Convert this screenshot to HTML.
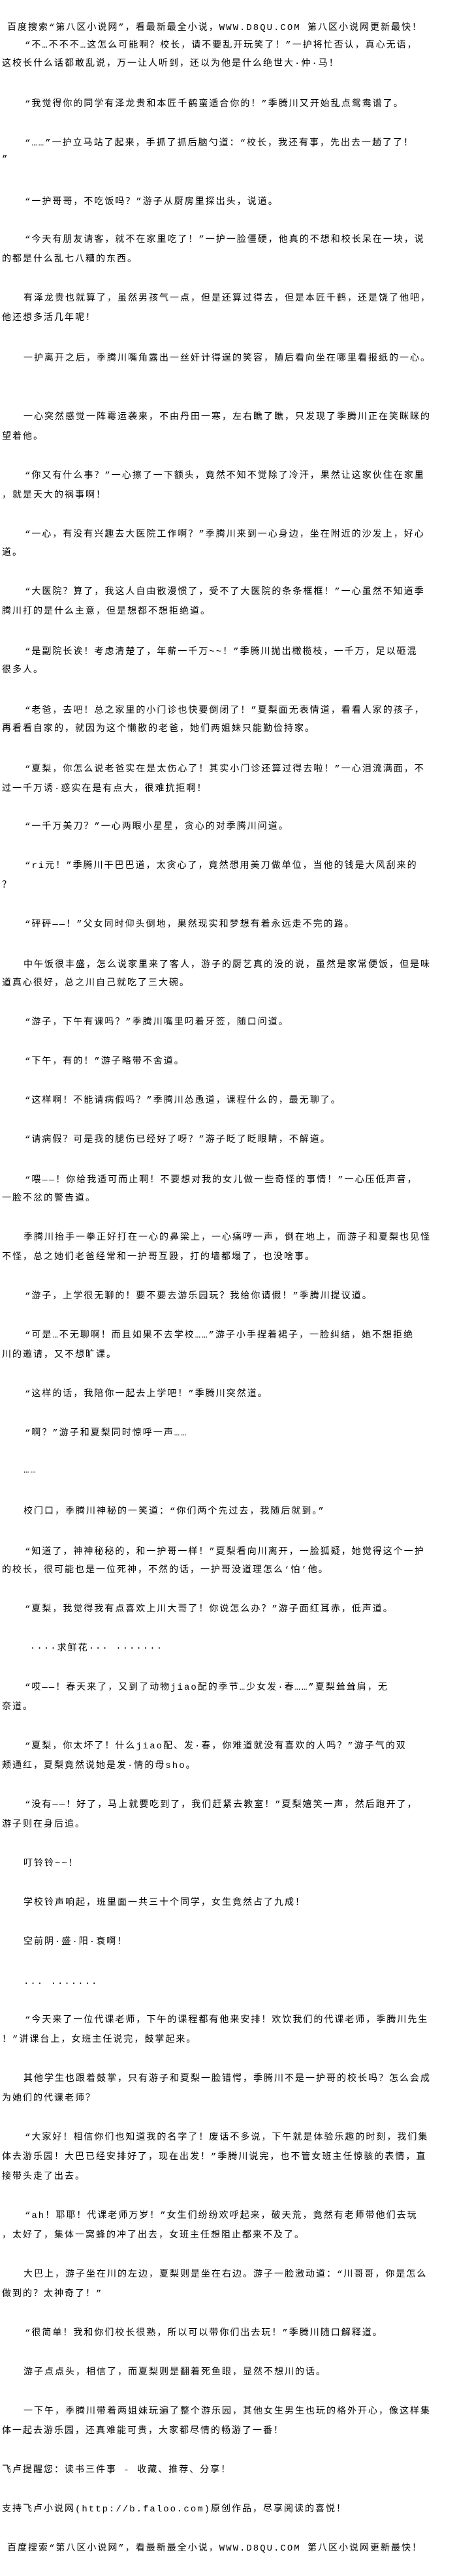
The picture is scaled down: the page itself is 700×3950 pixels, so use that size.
<!DOCTYPE html>
<html><head><meta charset="utf-8"><style>
html,body{margin:0;padding:0;background:#fff;}
body{width:700px;height:3950px;position:relative;overflow:hidden;}
.l{position:absolute;white-space:nowrap;font-family:"Liberation Mono","Noto Sans CJK SC",monospace;font-size:14px;line-height:16px;letter-spacing:2px;color:#000;}
</style></head><body>
<div class="l" style="left:11px;top:35px">百度搜索“第八区小说网”，看最新最全小说，WWW.D8QU.COM  第八区小说网更新最快！</div>
<div class="l" style="left:38px;top:62px">“不…不不不…这怎么可能啊？校长，请不要乱开玩笑了！”一护将忙否认，真心无语，</div>
<div class="l" style="left:3px;top:90px">这校长什么话都敢乱说，万一让人听到，还以为他是什么绝世大·仲·马！</div>
<div class="l" style="left:38px;top:152px">“我觉得你的同学有泽龙贵和本匠千鹤蛮适合你的！”季腾川又开始乱点鸳鸯谱了。</div>
<div class="l" style="left:38px;top:212px">“……”一护立马站了起来，手抓了抓后脑勺道：“校长，我还有事，先出去一趟了了！</div>
<div class="l" style="left:3px;top:237px">”</div>
<div class="l" style="left:38px;top:302px">“一护哥哥，不吃饭吗？”游子从厨房里探出头，说道。</div>
<div class="l" style="left:38px;top:360px">“今天有朋友请客，就不在家里吃了！”一护一脸僵硬，他真的不想和校长呆在一块，说</div>
<div class="l" style="left:3px;top:390px">的都是什么乱七八糟的东西。</div>
<div class="l" style="left:36px;top:450px">有泽龙贵也就算了，虽然男孩气一点，但是还算过得去，但是本匠千鹤，还是饶了他吧，</div>
<div class="l" style="left:3px;top:480px">他还想多活几年呢！</div>
<div class="l" style="left:36px;top:542px">一护离开之后，季腾川嘴角露出一丝奸计得逞的笑容，随后看向坐在哪里看报纸的一心。</div>
<div class="l" style="left:36px;top:632px">一心突然感觉一阵霉运袭来，不由丹田一寒，左右瞧了瞧，只发现了季腾川正在笑眯眯的</div>
<div class="l" style="left:3px;top:662px">望着他。</div>
<div class="l" style="left:38px;top:722px">“你又有什么事？”一心擦了一下额头，竟然不知不觉除了冷汗，果然让这家伙住在家里</div>
<div class="l" style="left:3px;top:752px">，就是天大的祸事啊！</div>
<div class="l" style="left:38px;top:812px">“一心，有没有兴趣去大医院工作啊？”季腾川来到一心身边，坐在附近的沙发上，好心</div>
<div class="l" style="left:3px;top:840px">道。</div>
<div class="l" style="left:38px;top:900px">“大医院？算了，我这人自由散漫惯了，受不了大医院的条条框框！”一心虽然不知道季</div>
<div class="l" style="left:3px;top:930px">腾川打的是什么主意，但是想都不想拒绝道。</div>
<div class="l" style="left:38px;top:992px">“是副院长诶！考虑清楚了，年薪一千万~~！”季腾川抛出橄榄枝，一千万，足以砸混</div>
<div class="l" style="left:3px;top:1020px">很多人。</div>
<div class="l" style="left:38px;top:1082px">“老爸，去吧！总之家里的小门诊也快要倒闭了！”夏梨面无表情道，看看人家的孩子，</div>
<div class="l" style="left:3px;top:1110px">再看看自家的，就因为这个懒散的老爸，她们两姐妹只能勤俭持家。</div>
<div class="l" style="left:38px;top:1172px">“夏梨，你怎么说老爸实在是太伤心了！其实小门诊还算过得去啦！”一心泪流满面，不</div>
<div class="l" style="left:3px;top:1202px">过一千万诱·惑实在是有点大，很难抗拒啊！</div>
<div class="l" style="left:38px;top:1260px">“一千万美刀？”一心两眼小星星，贪心的对季腾川问道。</div>
<div class="l" style="left:38px;top:1320px">“ri元！”季腾川干巴巴道，太贪心了，竟然想用美刀做单位，当他的钱是大风刮来的</div>
<div class="l" style="left:3px;top:1350px">？</div>
<div class="l" style="left:38px;top:1410px">“砰砰——！”父女同时仰头倒地，果然现实和梦想有着永远走不完的路。</div>
<div class="l" style="left:36px;top:1472px">中午饭很丰盛，怎么说家里来了客人，游子的厨艺真的没的说，虽然是家常便饭，但是味</div>
<div class="l" style="left:3px;top:1500px">道真心很好，总之川自己就吃了三大碗。</div>
<div class="l" style="left:38px;top:1560px">“游子，下午有课吗？”季腾川嘴里叼着牙签，随口问道。</div>
<div class="l" style="left:38px;top:1620px">“下午，有的！”游子略带不舍道。</div>
<div class="l" style="left:38px;top:1680px">“这样啊！不能请病假吗？”季腾川怂恿道，课程什么的，最无聊了。</div>
<div class="l" style="left:38px;top:1740px">“请病假？可是我的腿伤已经好了呀？”游子眨了眨眼睛，不解道。</div>
<div class="l" style="left:38px;top:1802px">“喂——！你给我适可而止啊！不要想对我的女儿做一些奇怪的事情！”一心压低声音，</div>
<div class="l" style="left:3px;top:1830px">一脸不忿的警告道。</div>
<div class="l" style="left:36px;top:1890px">季腾川抬手一拳正好打在一心的鼻梁上，一心痛哼一声，倒在地上，而游子和夏梨也见怪</div>
<div class="l" style="left:3px;top:1920px">不怪，总之她们老爸经常和一护哥互殴，打的墙都塌了，也没啥事。</div>
<div class="l" style="left:38px;top:1980px">“游子，上学很无聊的！要不要去游乐园玩？我给你请假！”季腾川提议道。</div>
<div class="l" style="left:38px;top:2040px">“可是…不无聊啊！而且如果不去学校……”游子小手捏着裙子，一脸纠结，她不想拒绝</div>
<div class="l" style="left:3px;top:2070px">川的邀请，又不想旷课。</div>
<div class="l" style="left:38px;top:2130px">“这样的话，我陪你一起去上学吧！”季腾川突然道。</div>
<div class="l" style="left:38px;top:2190px">“啊？”游子和夏梨同时惊呼一声……</div>
<div class="l" style="left:36px;top:2247px">……</div>
<div class="l" style="left:36px;top:2310px">校门口，季腾川神秘的一笑道：“你们两个先过去，我随后就到。”</div>
<div class="l" style="left:38px;top:2372px">“知道了，神神秘秘的，和一护哥一样！”夏梨看向川离开，一脸狐疑，她觉得这个一护</div>
<div class="l" style="left:3px;top:2400px">的校长，很可能也是一位死神，不然的话，一护哥没道理怎么‘怕’他。</div>
<div class="l" style="left:38px;top:2460px">“夏梨，我觉得我有点喜欢上川大哥了！你说怎么办？”游子面红耳赤，低声道。</div>
<div class="l" style="left:46px;top:2520px">····求鲜花···  ·······</div>
<div class="l" style="left:38px;top:2580px">“哎——！春天来了，又到了动物jiao配的季节…少女发·春……”夏梨耸耸肩，无</div>
<div class="l" style="left:3px;top:2610px">奈道。</div>
<div class="l" style="left:38px;top:2670px">“夏梨，你太坏了！什么jiao配、发·春，你难道就没有喜欢的人吗？”游子气的双</div>
<div class="l" style="left:3px;top:2700px">颊通红，夏梨竟然说她是发·情的母sho。</div>
<div class="l" style="left:38px;top:2760px">“没有——！好了，马上就要吃到了，我们赶紧去教室！”夏梨嬉笑一声，然后跑开了，</div>
<div class="l" style="left:3px;top:2790px">游子则在身后追。</div>
<div class="l" style="left:36px;top:2850px">叮铃铃~~！</div>
<div class="l" style="left:36px;top:2910px">学校铃声响起，班里面一共三十个同学，女生竟然占了九成！</div>
<div class="l" style="left:36px;top:2970px">空前阴·盛·阳·衰啊！</div>
<div class="l" style="left:36px;top:3034px">···  ·······</div>
<div class="l" style="left:38px;top:3090px">“今天来了一位代课老师，下午的课程都有他来安排！欢饮我们的代课老师，季腾川先生</div>
<div class="l" style="left:3px;top:3120px">！”讲课台上，女班主任说完，鼓掌起来。</div>
<div class="l" style="left:36px;top:3180px">其他学生也跟着鼓掌，只有游子和夏梨一脸错愕，季腾川不是一护哥的校长吗？怎么会成</div>
<div class="l" style="left:3px;top:3210px">为她们的代课老师？</div>
<div class="l" style="left:38px;top:3270px">“大家好！相信你们也知道我的名字了！废话不多说，下午就是体验乐趣的时刻，我们集</div>
<div class="l" style="left:3px;top:3300px">体去游乐园！大巴已经安排好了，现在出发！”季腾川说完，也不管女班主任惊骇的表情，直</div>
<div class="l" style="left:3px;top:3330px">接带头走了出去。</div>
<div class="l" style="left:38px;top:3390px">“ah！耶耶！代课老师万岁！”女生们纷纷欢呼起来，破天荒，竟然有老师带他们去玩</div>
<div class="l" style="left:3px;top:3420px">，太好了，集体一窝蜂的冲了出去，女班主任想阻止都来不及了。</div>
<div class="l" style="left:36px;top:3480px">大巴上，游子坐在川的左边，夏梨则是坐在右边。游子一脸激动道：“川哥哥，你是怎么</div>
<div class="l" style="left:3px;top:3510px">做到的？太神奇了！”</div>
<div class="l" style="left:38px;top:3570px">“很简单！我和你们校长很熟，所以可以带你们出去玩！”季腾川随口解释道。</div>
<div class="l" style="left:36px;top:3630px">游子点点头，相信了，而夏梨则是翻着死鱼眼，显然不想川的话。</div>
<div class="l" style="left:36px;top:3690px">一下午，季腾川带着两姐妹玩遍了整个游乐园，其他女生男生也玩的格外开心，像这样集</div>
<div class="l" style="left:3px;top:3720px">体一起去游乐园，还真难能可贵，大家都尽情的畅游了一番！</div>
<div class="l" style="left:3px;top:3780px">飞卢提醒您：读书三件事 - 收藏、推荐、分享！</div>
<div class="l" style="left:3px;top:3840px">支持飞卢小说网(http://b.faloo.com)原创作品，尽享阅读的喜悦！</div>
<div class="l" style="left:11px;top:3900px">百度搜索“第八区小说网”，看最新最全小说，WWW.D8QU.COM  第八区小说网更新最快！</div>
</body></html>
